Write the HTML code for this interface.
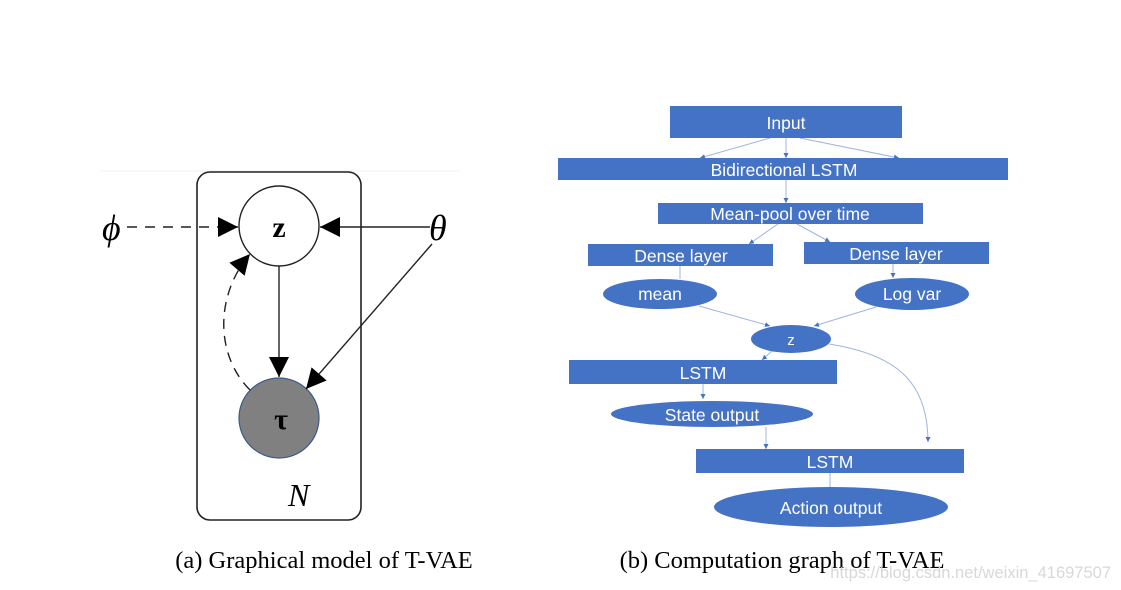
<!DOCTYPE html>
<html><head><meta charset="utf-8"><style>
html,body{margin:0;padding:0;background:#fff;}
svg{display:block;}
</style></head><body>
<svg width="1121" height="590" viewBox="0 0 1121 590" xmlns="http://www.w3.org/2000/svg">
<defs>
<marker id="big" viewBox="0 0 10 10" markerWidth="24" markerHeight="20" refX="10" refY="5" orient="auto" markerUnits="userSpaceOnUse"><path d="M0,0 L10,5 L0,10 z" fill="#000"/></marker>
<marker id="sm" viewBox="0 0 10 10" markerWidth="5" markerHeight="5" refX="10" refY="5" orient="auto" markerUnits="userSpaceOnUse"><path d="M0,0 L10,5 L0,10 z" fill="#4472c4"/></marker>
</defs>
<line x1="100" y1="171" x2="460" y2="171" stroke="#f0f0f0" stroke-width="1"/>
<rect x="197" y="172" width="164" height="348" rx="13" fill="none" stroke="#222" stroke-width="1.6"/>
<circle cx="279" cy="226" r="40" fill="#fff" stroke="#222" stroke-width="1.4"/>
<circle cx="279" cy="418" r="40" fill="#808080" stroke="#3a5a8a" stroke-width="1.2"/>
<text x="279" y="237" font-family="Liberation Serif,serif" font-weight="bold" font-size="30" text-anchor="middle">z</text>
<text x="281" y="429" font-family="Liberation Serif,serif" font-weight="bold" font-size="30" text-anchor="middle">τ</text>
<text x="102" y="240" font-family="Liberation Serif,serif" font-style="italic" font-size="36">ϕ</text>
<text x="429" y="240" font-family="Liberation Serif,serif" font-style="italic" font-size="36">θ</text>
<text x="288" y="506" font-family="Liberation Serif,serif" font-style="italic" font-size="32">N</text>
<line x1="127" y1="227" x2="238" y2="227" stroke="#222" stroke-width="1.4" stroke-dasharray="10,8" marker-end="url(#big)"/>
<line x1="430" y1="227" x2="320" y2="227" stroke="#222" stroke-width="1.4" marker-end="url(#big)"/>
<line x1="432" y1="244" x2="306" y2="389" stroke="#222" stroke-width="1.4" marker-end="url(#big)"/>
<line x1="279" y1="266" x2="279" y2="377" stroke="#222" stroke-width="1.4" marker-end="url(#big)"/>
<path d="M250,390 C215,355 215,295 250,254" fill="none" stroke="#222" stroke-width="1.4" stroke-dasharray="10,7" marker-end="url(#big)"/>

<g stroke="#9db4e0" stroke-width="1" fill="none">
<line x1="770" y1="138" x2="700" y2="158" marker-end="url(#sm)"/>
<line x1="786" y1="138" x2="786" y2="158" marker-end="url(#sm)"/>
<line x1="800" y1="138" x2="899" y2="158" marker-end="url(#sm)"/>
<line x1="786" y1="180" x2="786" y2="203" marker-end="url(#sm)"/>
<line x1="778" y1="224" x2="749" y2="244" marker-end="url(#sm)"/>
<line x1="797" y1="224" x2="830" y2="242" marker-end="url(#sm)"/>
<line x1="680" y1="266" x2="680" y2="279"/>
<line x1="893" y1="264" x2="893" y2="278" marker-end="url(#sm)"/>
<line x1="699" y1="306" x2="770" y2="326" marker-end="url(#sm)"/>
<line x1="876" y1="307" x2="814" y2="326" marker-end="url(#sm)"/>
<line x1="772" y1="351" x2="762" y2="360" marker-end="url(#sm)"/>
<path d="M829,344 C900,355 928,385 928,442" marker-end="url(#sm)"/>
<line x1="703" y1="384" x2="703" y2="399" marker-end="url(#sm)"/>
<line x1="766" y1="427" x2="766" y2="449" marker-end="url(#sm)"/>
<line x1="830" y1="473" x2="830" y2="487"/>
</g>
<g fill="#4472c4">
<rect x="670" y="106" width="232" height="32"/>
<rect x="558" y="158" width="450" height="22"/>
<rect x="658" y="203" width="265" height="21"/>
<rect x="588" y="244" width="185" height="22"/>
<rect x="804" y="242" width="185" height="22"/>
<ellipse cx="660" cy="294" rx="57" ry="15"/>
<ellipse cx="912" cy="294" rx="57" ry="16"/>
<ellipse cx="791" cy="339" rx="40" ry="14"/>
<rect x="569" y="360" width="268" height="24"/>
<ellipse cx="712" cy="414" rx="101" ry="13"/>
<rect x="696" y="449" width="268" height="24"/>
<ellipse cx="831" cy="507" rx="117" ry="20"/>
</g>
<g fill="#fff" font-family="Liberation Sans,sans-serif" text-anchor="middle" font-size="17.5">
<text x="786" y="129">Input</text>
<text x="784" y="176">Bidirectional LSTM</text>
<text x="790" y="220">Mean-pool over time</text>
<text x="681" y="262">Dense layer</text>
<text x="896" y="260">Dense layer</text>
<text x="660" y="300">mean</text>
<text x="912" y="300">Log var</text>
<text x="791" y="345" font-size="15">z</text>
<text x="703" y="379">LSTM</text>
<text x="712" y="421">State output</text>
<text x="830" y="468">LSTM</text>
<text x="831" y="514">Action output</text>
</g>
<text x="324" y="568" font-family="Liberation Serif,serif" font-size="24.5" text-anchor="middle">(a) Graphical model of T-VAE</text>
<text x="782" y="568" font-family="Liberation Serif,serif" font-size="24.5" text-anchor="middle">(b) Computation graph of T-VAE</text>
<text x="1111" y="578" font-family="Liberation Sans,sans-serif" font-size="16.5" fill="#d8d8d8" text-anchor="end">https://blog.csdn.net/weixin_41697507</text>
</svg>
</body></html>
